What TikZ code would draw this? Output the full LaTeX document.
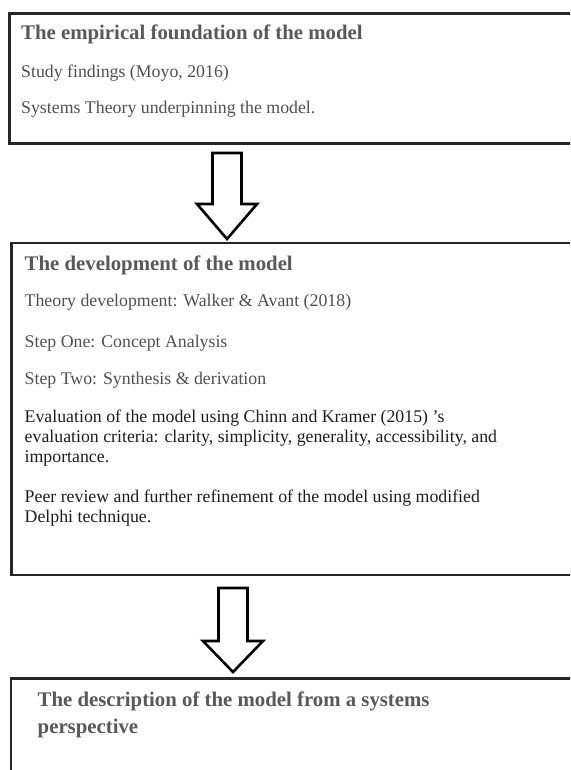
\documentclass[tikz,border=0pt]{standalone}
\usepackage{fontspec}
\setmainfont{Liberation Serif}
\definecolor{headgray}{HTML}{595959}
\definecolor{bodygray}{HTML}{505050}
\definecolor{bodydark}{HTML}{1E1E1E}
\definecolor{framecol}{HTML}{262626}
\begin{document}
\begin{tikzpicture}[x=1pt,y=-1pt,
  frame/.style={draw=framecol,line width=2.6pt,anchor=north west,minimum width=640pt,inner sep=0pt},
  headtxt/.style={anchor=base west,inner sep=0pt,font=\fontsize{20.8}{24}\selectfont\bfseries,text=headgray},
  bodytxt/.style={anchor=base west,inner sep=0pt,font=\fontsize{17.8}{20.5}\selectfont,text=bodygray},
  darktxt/.style={bodytxt,text=bodydark},
  flow/.style={draw=black,line width=2.6pt,fill=white,line join=miter,miter limit=10}]
\useasboundingbox (0,0) rectangle (570,770);
\clip (0,0) rectangle (570,770);
\fill[white] (0,0) rectangle (570,770);

% the three stage boxes (they run past the right and bottom edges)
\node[frame,minimum height=130.5pt] (box1) at (8,12) {};
\node[frame,minimum height=332pt]   (box2) at (10.3,241.5) {};
\node[frame,minimum height=200pt]   (box3) at (9.6,677) {};

% block arrows between the stages
\draw[flow] (212.5,153) -- (241.5,153) -- (241.5,204) -- (257,204) -- (227,239)
  -- (197,204) -- (212.5,204) -- cycle;
\draw[flow] (218.5,588) -- (247.5,588) -- (247.5,641) -- (263,641) -- (233,672)
  -- (203,641) -- (218.5,641) -- cycle;

% stage one
\node[headtxt] (t1)  at (21,40)  {The empirical foundation of the model};
\node[bodytxt] (a1)  at (21,78)  {Study findings (Moyo, 2016)};
\node[bodytxt] (a2)  at (21,114) {Systems Theory underpinning the model.};

% stage two
\node[headtxt] (t2)  at (24.5,270) {The development of the model};
\node[bodytxt] (b1)  at (24.5,306) {Theory development: Walker \& Avant (2018)};
\node[bodytxt] (b2)  at (24.5,347) {Step One: Concept Analysis};
\node[bodytxt] (b3)  at (24.5,384) {Step Two: Synthesis \& derivation};
\node[darktxt] (b4a) at (24.5,422) {Evaluation of the model using Chinn and Kramer (2015) ’s};
\node[darktxt] (b4b) at (24.5,442) {evaluation criteria: clarity, simplicity, generality, accessibility, and};
\node[darktxt] (b4c) at (24.5,462) {importance.};
\node[darktxt] (b5a) at (24.5,502) {Peer review and further refinement of the model using modified};
\node[darktxt] (b5b) at (24.5,522) {Delphi technique.};

% stage three
\node[headtxt] (t3a) at (37.5,706) {The description of the model from a systems};
\node[headtxt] (t3b) at (37.5,733) {perspective};
\end{tikzpicture}
\end{document}
